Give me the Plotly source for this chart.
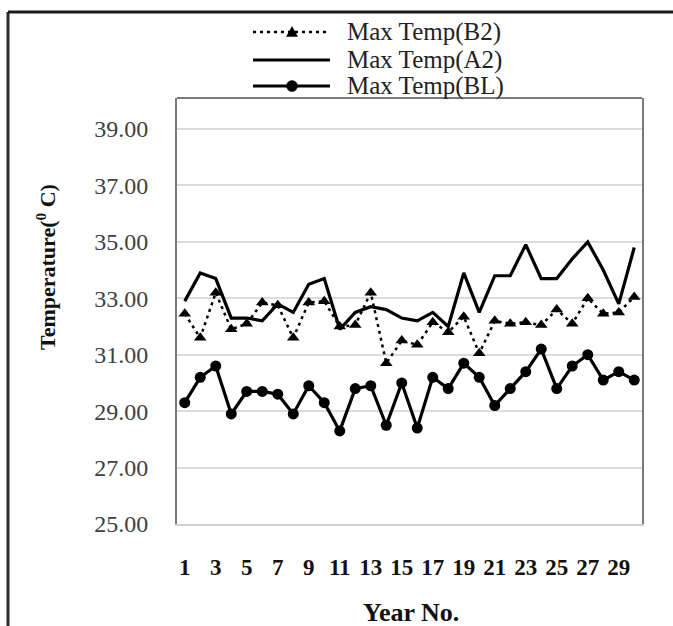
import plotly.graph_objects as go

years = list(range(1, 31))
tick_years = list(range(1, 30, 2))
tick_labels = [str(v) for v in tick_years]

max_temp_b2 = [32.45, 31.6, 33.2, 31.9, 32.1, 32.85, 32.75, 31.6, 32.85, 32.9,
               32.0, 32.05, 33.2, 30.7, 31.5, 31.35, 32.15, 31.8, 32.35, 31.05,
               32.2, 32.1, 32.15, 32.05, 32.6, 32.1, 33.0, 32.45, 32.5, 33.05]
max_temp_a2 = [32.9, 33.9, 33.7, 32.3, 32.3, 32.2, 32.8, 32.5, 33.5, 33.7,
               31.9, 32.5, 32.7, 32.6, 32.3, 32.2, 32.5, 32.0, 33.9, 32.5,
               33.8, 33.8, 34.9, 33.7, 33.7, 34.4, 35.0, 34.0, 32.8, 34.8]
max_temp_bl = [29.3, 30.2, 30.6, 28.9, 29.7, 29.7, 29.6, 28.9, 29.9, 29.3,
               28.3, 29.8, 29.9, 28.5, 30.0, 28.4, 30.2, 29.8, 30.7, 30.2,
               29.2, 29.8, 30.4, 31.2, 29.8, 30.6, 31.0, 30.1, 30.4, 30.1]

series_names = ["Max Temp(B2)", "Max Temp(A2)", "Max Temp(BL)"]

y_ticks = [25, 27, 29, 31, 33, 35, 37, 39]
y_tick_labels = [f"{v:.2f}" for v in y_ticks]

fig = go.Figure()
fig.add_trace(go.Scatter(
    x=years, y=max_temp_b2, name=series_names[0], mode="lines+markers",
    line=dict(color="black", width=2.5, dash="3px,4px"),
    marker=dict(symbol="triangle-up", size=11, color="black"),
    showlegend=False,
))
fig.add_trace(go.Scatter(
    x=years, y=max_temp_a2, name=series_names[1], mode="lines",
    line=dict(color="black", width=3.2),
    showlegend=False,
))
fig.add_trace(go.Scatter(
    x=years, y=max_temp_bl, name=series_names[2], mode="lines+markers",
    line=dict(color="black", width=3.2),
    marker=dict(symbol="circle", size=11, color="black"),
    showlegend=False,
))

L, R, T, B = 177, 31, 98, 102
W, H = 673, 626
pw, ph = W - L - R, H - T - B

def px_x(px):
    return (px - L) / pw

def px_y(py):
    return (H - B - py) / ph

# custom legend (wide key samples like the original)
leg_rows = [32, 60, 86]
key_x0, key_x1, key_mid, text_x = 253, 330, 292, 345

shapes = [
    dict(type="line", xref="paper", yref="paper", x0=0, x1=1, y0=1, y1=1,
         line=dict(color="#7a7a7a", width=2)),
    dict(type="line", xref="paper", yref="paper", x0=px_x(8), x1=px_x(8),
         y0=px_y(12), y1=px_y(640), line=dict(color="#2a2a2a", width=3)),
    dict(type="line", xref="paper", yref="paper", x0=px_x(8), x1=px_x(680),
         y0=px_y(12), y1=px_y(12), line=dict(color="#1a1a1a", width=3)),
]
# B2 key: dotted line + triangle
r = leg_rows[0]
shapes.append(dict(type="line", xref="paper", yref="paper",
                   x0=px_x(key_x0), x1=px_x(key_x1), y0=px_y(r), y1=px_y(r),
                   line=dict(color="black", width=2.5, dash="3px,4px")))
shapes.append(dict(type="path", xref="paper", yref="paper",
                   path=(f"M {px_x(key_mid - 5.5)} {px_y(r + 4.5)} "
                         f"L {px_x(key_mid + 5.5)} {px_y(r + 4.5)} "
                         f"L {px_x(key_mid)} {px_y(r - 5.5)} Z"),
                   fillcolor="black", line=dict(color="black", width=0.5)))
# A2 key: solid line
r = leg_rows[1]
shapes.append(dict(type="line", xref="paper", yref="paper",
                   x0=px_x(key_x0), x1=px_x(key_x1), y0=px_y(r), y1=px_y(r),
                   line=dict(color="black", width=3.2)))
# BL key: solid line + circle
r = leg_rows[2]
shapes.append(dict(type="line", xref="paper", yref="paper",
                   x0=px_x(key_x0), x1=px_x(key_x1), y0=px_y(r), y1=px_y(r),
                   line=dict(color="black", width=3.2)))
shapes.append(dict(type="circle", xref="paper", yref="paper",
                   x0=px_x(key_mid - 5.5), x1=px_x(key_mid + 5.5),
                   y0=px_y(r + 5.5), y1=px_y(r - 5.5),
                   fillcolor="black", line=dict(color="black", width=0.5)))

annotations = [
    dict(text="<b>Temperature(<sup>0</sup> C)</b>", xref="paper", yref="paper",
         x=px_x(46), y=px_y(267), textangle=-90, showarrow=False,
         xanchor="center", yanchor="middle",
         font=dict(family="Liberation Serif", size=22, color="#111111")),
    dict(text="<b>Year No.</b>", xref="paper", yref="paper",
         x=px_x(411), y=px_y(612), showarrow=False,
         xanchor="center", yanchor="middle",
         font=dict(family="Liberation Serif", size=26, color="#111111")),
]
for name, r in zip(series_names, leg_rows):
    annotations.append(dict(
        text=name, xref="paper", yref="paper", x=px_x(text_x), y=px_y(r),
        showarrow=False, xanchor="left", yanchor="middle",
        font=dict(family="Liberation Serif", size=25, color="#222222")))

fig.update_layout(
    width=W, height=H,
    margin=dict(l=L, r=R, t=T, b=B),
    paper_bgcolor="white", plot_bgcolor="white",
    showlegend=False,
    xaxis=dict(
        range=[0.5, 30.5], tickmode="array", tickvals=tick_years, ticktext=tick_labels,
        tickangle=0, showgrid=False, zeroline=False, ticks="",
        showline=True, linecolor="#d0d0d0", linewidth=1.5,
        ticklabelstandoff=22,
        tickfont=dict(family="Liberation Serif", size=23, color="#111111", weight="bold"),
    ),
    yaxis=dict(
        range=[25, 40.1], tickmode="array", tickvals=y_ticks, ticktext=y_tick_labels,
        showgrid=True, gridcolor="#dcdcdc", gridwidth=1.5, zeroline=False, ticks="",
        showline=True, linecolor="#7a7a7a", linewidth=2, mirror=True,
        ticklabelstandoff=22,
        tickfont=dict(family="Liberation Serif", size=24, color="#404040"),
    ),
    shapes=shapes,
    annotations=annotations,
)

fig.write_html("out.html")
